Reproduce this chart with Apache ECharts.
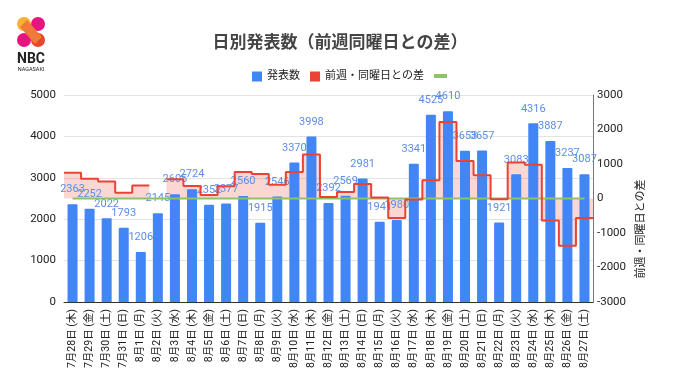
<!DOCTYPE html>
<html>
<head>
<meta charset="utf-8">
<script src="https://cdn.jsdelivr.net/npm/echarts@6/dist/echarts.min.js"></script>
<style>
html,body{margin:0;padding:0;background:#fff;}
#c{width:680px;height:382px;}
</style>
</head>
<body>
<div id="c"></div>
<script>
const categories = ['7月28日 (木)','7月29日 (金)','7月30日 (土)','7月31日 (日)','8月1日 (月)','8月2日 (火)','8月3日 (水)','8月4日 (木)','8月5日 (金)','8月6日 (土)','8月7日 (日)','8月8日 (月)','8月9日 (火)','8月10日 (水)','8月11日 (木)','8月12日 (金)','8月13日 (土)','8月14日 (日)','8月15日 (月)','8月16日 (火)','8月17日 (水)','8月18日 (木)','8月19日 (金)','8月20日 (土)','8月21日 (日)','8月22日 (月)','8月23日 (火)','8月24日 (水)','8月25日 (木)','8月26日 (金)','8月27日 (土)'];
const counts = [2363,2252,2022,1793,1206,2145,2605,2724,2352,2377,2560,1915,2546,3370,3998,2392,2569,2981,1941,1980,3341,4525,4610,3653,3657,1921,3083,4316,3887,3237,3087];
const diffs = [745,575,495,165,375,null,560,361,100,355,767,709,401,765,1274,40,192,421,26,-566,-29,527,2218,1084,676,-20,1040,975,-638,-1373,-566];
const baseline = [0,0,0,0,0,0,0,0,0,0,0,0,0,0,0,0,0,0,0,0,0,0,0,0,0,0,0,0,0,0,0];
const leftTicks = [0,1000,2000,3000,4000,5000];
const rightTicks = [-3000,-2000,-1000,0,1000,2000,3000];

// step path: each day occupies [i, i+1] on a hidden value x-axis
const stepData = [];
diffs.forEach((v, i) => {
  if (v === null) { stepData.push([i + 0.5, null]); return; }
  stepData.push([i, v]);
  stepData.push([i + 1, v]);
});

const FONT = 'Roboto, "Noto Sans CJK JP", sans-serif';
const chart = echarts.init(document.getElementById('c'));
chart.setOption({
  animation: false,
  textStyle: { fontFamily: FONT },
  title: {
    text: '日別発表数（前週同曜日との差）',
    left: 'center', top: 30,
    textStyle: { fontSize: 17, fontWeight: 'bold', color: '#444', fontFamily: FONT }
  },
  legend: [{
    left: 247, top: 66, itemWidth: 10, itemHeight: 10, itemGap: 10,
    textStyle: { fontSize: 11, color: '#222' },
    data: [
      { name: '発表数', icon: 'rect' },
      { name: '前週・同曜日との差', icon: 'rect' }
    ]
  }, {
    left: 429, top: 69, itemWidth: 13, itemHeight: 4,
    formatter: () => '',
    data: [{ name: '基準', icon: 'rect' }]
  }],
  grid: { left: 64, right: 87, top: 95, bottom: 80 },
  xAxis: [{
    type: 'category', data: categories,
    axisLine: { lineStyle: { color: '#333' } },
    axisTick: { show: false },
    axisLabel: { rotate: 90, fontSize: 10.5, color: '#222', interval: 0, margin: 7 }
  }, {
    type: 'value', min: 0, max: categories.length, show: false
  }],
  yAxis: [{
    type: 'value', min: leftTicks[0], max: leftTicks[leftTicks.length - 1], interval: 1000,
    axisLine: { show: false }, axisTick: { show: false },
    axisLabel: { fontSize: 11.5, color: '#222', margin: 8, formatter: v => String(v) },
    splitLine: { lineStyle: { color: '#e3e3e3' } }
  }, {
    type: 'value', min: rightTicks[0], max: rightTicks[rightTicks.length - 1], interval: 1000,
    position: 'right',
    axisLine: { show: true, lineStyle: { color: '#777' } }, axisTick: { show: false },
    axisLabel: { fontSize: 11.5, color: '#222', margin: 4, formatter: v => String(v) },
    splitLine: { show: false }
  }],
  series: [{
    name: '差エリア', type: 'line', xAxisIndex: 1, yAxisIndex: 1, data: stepData,
    symbol: 'none', lineStyle: { width: 0 }, z: 1, silent: true,
    areaStyle: { color: 'rgba(234,67,53,0.3)', origin: 0 }
  }, {
    name: '発表数', type: 'bar', data: counts, barWidth: 10, z: 2,
    itemStyle: { color: '#4285F4', borderRadius: [1, 1, 0, 0] },
    label: { show: true, position: 'top', distance: 9, fontSize: 11, color: '#5b8ee6' }
  }, {
    name: '前週・同曜日との差', type: 'line', xAxisIndex: 1, yAxisIndex: 1, data: stepData,
    symbol: 'none', z: 4, lineStyle: { color: '#EA4335', width: 2 },
    itemStyle: { color: '#EA4335' }
  }, {
    name: '基準', type: 'line', yAxisIndex: 1, data: baseline,
    symbol: 'none', z: 3, lineStyle: { color: '#8fc26a', width: 2 },
    itemStyle: { color: '#8fc26a' }
  }],
  graphic: [{
    type: 'text', x: 641, y: 229, rotation: Math.PI / 2,
    style: { text: '前週・同曜日との差', fontSize: 11, fill: '#222', fontFamily: FONT, textAlign: 'center', textVerticalAlign: 'middle' }
  }, {
    type: 'group', x: 17, y: 17,
    children: [
      { type: 'circle', shape: { cx: 7, cy: 7, r: 7 }, style: { fill: '#F8B133' } },
      { type: 'circle', shape: { cx: 21, cy: 7, r: 7 }, style: { fill: '#E5147F' } },
      { type: 'circle', shape: { cx: 7, cy: 23, r: 7 }, style: { fill: '#E5147F' } },
      { type: 'circle', shape: { cx: 21, cy: 23, r: 7 }, style: { fill: '#E9442C' } },
      { type: 'polygon', shape: { points: [[3, 10], [10, 3], [25, 20], [18, 27]] }, style: { fill: '#F07A3A' } },
      { type: 'text', style: { text: 'NBC', x: 14, y: 35, fontSize: 14, fontWeight: 'bold', fill: '#222', fontFamily: 'Roboto', textAlign: 'center' } },
      { type: 'text', style: { text: 'NAGASAKI', x: 14, y: 50, fontSize: 5.5, fill: '#222', fontFamily: 'Roboto', textAlign: 'center' } }
    ]
  }]
});
</script>
</body>
</html>
